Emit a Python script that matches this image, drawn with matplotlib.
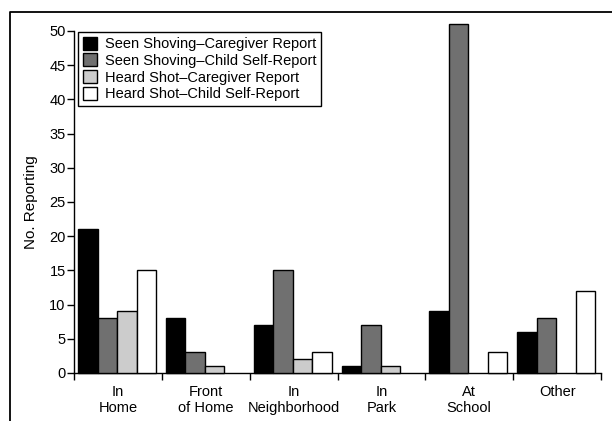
import matplotlib
matplotlib.use("Agg")
import matplotlib.pyplot as plt
from matplotlib.lines import Line2D
import numpy as np

categories = ["In\nHome", "Front\nof Home", "In\nNeighborhood", "In\nPark", "At\nSchool", "Other"]
series_names = ["Seen Shoving\u2013Caregiver Report", "Seen Shoving\u2013Child Self-Report",
                "Heard Shot\u2013Caregiver Report", "Heard Shot\u2013Child Self-Report"]
seen_caregiver = [21, 8, 7, 1, 9, 6]
seen_child = [8, 3, 15, 7, 51, 8]
heard_caregiver = [9, 1, 2, 1, 0, 0]
heard_child = [15, 0, 3, 0, 3, 12]
y_ticks = list(range(0, 51, 5))

colors = ["#000000", "#707070", "#cccccc", "#ffffff"]

plt.rcParams['font.family'] = ['Liberation Sans Narrow', 'Liberation Sans', 'DejaVu Sans']

fig = plt.figure(figsize=(6.12, 4.21), dpi=100)
W, H = 612, 421
ax = fig.add_axes([74 / W, 1 - 373 / H, (601 - 74) / W, (373 - 31) / H])

x = np.arange(len(categories))
bw = 0.222
allseries = [seen_caregiver, seen_child, heard_caregiver, heard_child]
for i, (vals, c, name) in enumerate(zip(allseries, colors, series_names)):
    bars = ax.bar(x + (i - 1.5) * bw - 0.01, vals, width=bw, color=c, edgecolor="black",
                  linewidth=1.0, label=name, clip_on=False, zorder=3)
    for b, v in zip(bars, vals):
        if v == 0:
            b.set_visible(False)

ax.set_xlim(-0.5, len(categories) - 0.5)
ax.set_ylim(0, 50)
ax.set_yticks(y_ticks)
ax.tick_params(axis='y', labelsize=10.5, length=5, width=1, direction='out', pad=1)
ax.set_xticks(np.arange(-0.5, len(categories), 1.0))
ax.set_xticklabels([])
ax.tick_params(axis='x', length=5, width=1, direction='out')
ax.set_xticks(x, minor=True)
ax.set_xticklabels(categories, minor=True, fontsize=10.5, linespacing=1.1)
ax.tick_params(axis='x', which='minor', length=0, pad=9)
for s in ['top', 'right']:
    ax.spines[s].set_visible(False)
for s in ['left', 'bottom']:
    ax.spines[s].set_linewidth(1.0)

ax.set_ylabel("No. Reporting", fontsize=11, labelpad=8)

leg = ax.legend(loc='upper left', bbox_to_anchor=(0.003, 1.005), fontsize=10.5, frameon=True,
                fancybox=False, edgecolor='black', framealpha=1, borderpad=0.3,
                handlelength=1.0, handleheight=1.0, handletextpad=0.5, labelspacing=0.15,
                borderaxespad=0.2)
leg.get_frame().set_linewidth(1.0)

# outer frame (cropped)
fig.add_artist(Line2D([10 / W, 10 / W, 1.0], [0.0, 1 - 11.5 / H, 1 - 11.5 / H],
                      color='black', linewidth=1.3, transform=fig.transFigure))

fig.savefig("out.png", dpi=100)
